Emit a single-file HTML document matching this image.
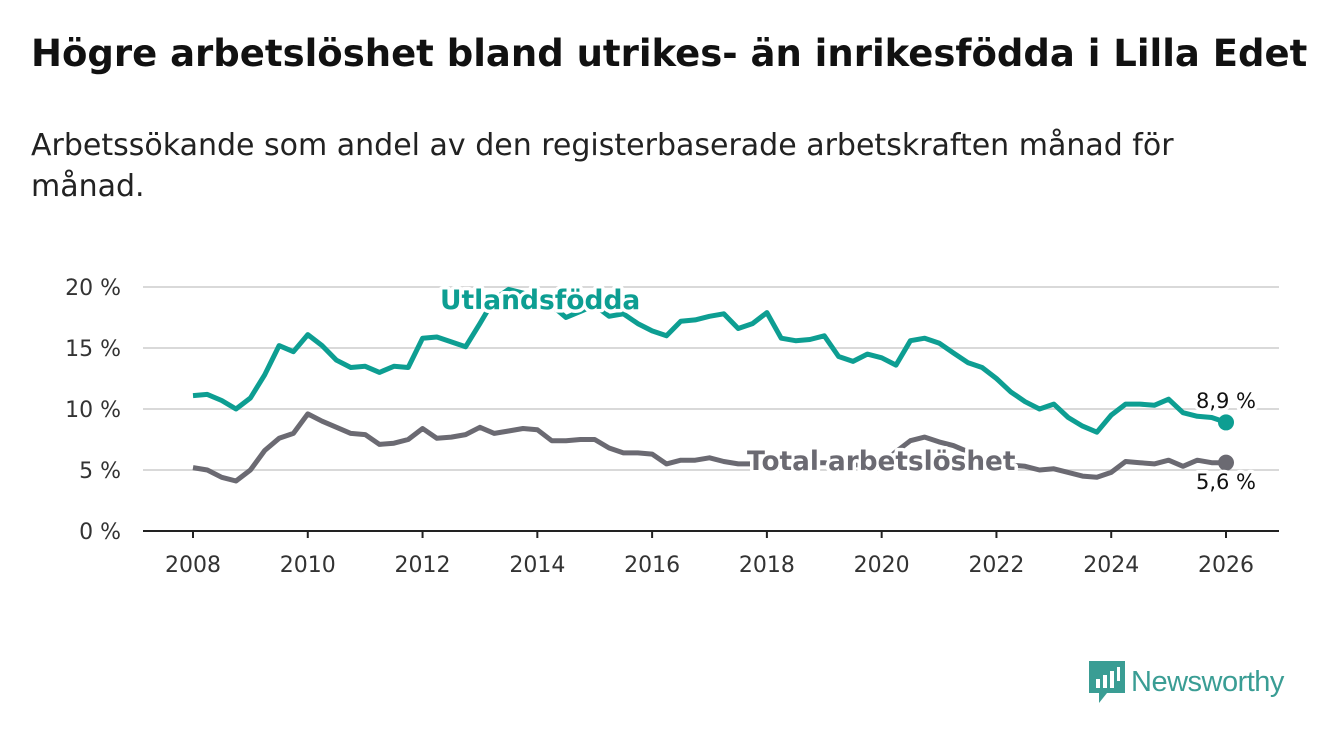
<!DOCTYPE html>
<html><head><meta charset="utf-8"><style>
body{margin:0;width:1340px;height:734px;background:#fff;font-family:"Liberation Sans","DejaVu Sans",sans-serif;overflow:hidden;position:relative}
h1{position:absolute;left:31px;top:32px;margin:0;font-size:37px;font-weight:bold;color:#111;font-family:"DejaVu Sans","Liberation Sans",sans-serif;letter-spacing:0px;white-space:nowrap}
.sub{position:absolute;left:31px;top:125px;width:1200px;font-size:30px;line-height:41px;color:#222;font-family:"DejaVu Sans","Liberation Sans",sans-serif}
svg{position:absolute;left:0;top:0}
</style></head><body>
<h1>Högre arbetslöshet bland utrikes- än inrikesfödda i Lilla Edet</h1>
<div class="sub">Arbetssökande som andel av den registerbaserade arbetskraften månad för månad.</div>
<svg id="chart" width="1340" height="734"></svg>
<script>
const years=[2008,2010,2012,2014,2016,2018,2020,2022,2024,2026];
const yTicks=[0,5,10,15,20];
const foreign=[11.1,11.2,10.7,10.0,10.9,12.8,15.2,14.7,16.1,15.2,14.0,13.4,13.5,13.0,13.5,13.4,15.8,15.9,15.5,15.1,17.0,19.0,19.8,19.5,19.0,18.5,17.5,18.0,18.5,17.6,17.8,17.0,16.4,16.0,17.2,17.3,17.6,17.8,16.6,17.0,17.9,15.8,15.6,15.7,16.0,14.3,13.9,14.5,14.2,13.6,15.6,15.8,15.4,14.6,13.8,13.4,12.5,11.4,10.6,10.0,10.4,9.3,8.6,8.1,9.5,10.4,10.4,10.3,10.8,9.7,9.4,9.3,8.9];
const total=[5.2,5.0,4.4,4.1,5.0,6.6,7.6,8.0,9.6,9.0,8.5,8.0,7.9,7.1,7.2,7.5,8.4,7.6,7.7,7.9,8.5,8.0,8.2,8.4,8.3,7.4,7.4,7.5,7.5,6.8,6.4,6.4,6.3,5.5,5.8,5.8,6.0,5.7,5.5,5.5,5.5,5.6,5.6,5.6,5.6,5.4,5.4,5.5,5.5,6.5,7.4,7.7,7.3,7.0,6.5,6.0,5.8,5.4,5.3,5.0,5.1,4.8,4.5,4.4,4.8,5.7,5.6,5.5,5.8,5.3,5.8,5.6,5.6];
const startYear=2008, step=0.25;
const X=y=>193+(y-2008)*(1226-193)/18;
const Y=v=>531-v*12.2;
const svg=document.getElementById('chart');
const NS='http://www.w3.org/2000/svg';
function mk(t,a,p){const e=document.createElementNS(NS,t);for(const k in a)e.setAttribute(k,a[k]);(p||svg).appendChild(e);return e;}
yTicks.forEach(v=>{
 if(v>0){const g=mk('line',{x1:143,x2:1279,y1:Y(v),y2:Y(v),stroke:'#d9d9d9','stroke-width':2});
 
 }
 const t=mk('text',{x:121,y:Y(v)+8,'text-anchor':'end','font-size':22,fill:'#333','font-family':'DejaVu Sans, sans-serif'});
 t.textContent=v+' %';
 
 
});
const ax=mk('line',{x1:143,x2:1279,y1:531,y2:531,stroke:'#222','stroke-width':2});


years.forEach(y=>{
 mk('line',{x1:X(y),x2:X(y),y1:531,y2:538,stroke:'#222','stroke-width':2});
 const t=mk('text',{x:X(y),y:572,'text-anchor':'middle','font-size':22,fill:'#333','font-family':'DejaVu Sans, sans-serif'});
 t.textContent=y;
 
 
});
function line(arr,color,name){
 const d=arr.map((v,i)=>(i?'L':'M')+X(startYear+i*step).toFixed(1)+','+Y(v).toFixed(1)).join('');
 const p=mk('path',{d:d,fill:'none',stroke:color,'stroke-width':5,'stroke-linejoin':'round'});
 
 
 const last=arr.length-1;
 const c=mk('circle',{cx:X(startYear+last*step),cy:Y(arr[last]),r:8,fill:color});
 
 
}
line(total,'#6b6a72','series-total');
line(foreign,'#0d9e92','series-foreign-born');
function lab(x,y,txt,col,size,weight,name,anchor){
 const t=mk('text',{x:x,y:y,fill:col,'font-size':size,'font-weight':weight,'font-family':'DejaVu Sans, sans-serif',stroke:'#fff','stroke-width':7,'paint-order':'stroke','stroke-linejoin':'round','text-anchor':anchor||'start'});
 t.textContent=txt;
 
 
}
lab(440,309,'Utlandsfödda','#0d9e92',26.5,'bold','label-foreign-born');
lab(747,470,'Total arbetslöshet','#6b6a72',26.3,'bold','label-total');
lab(1226,408,'8,9 %','#111',21,'normal','value-foreign-born','middle');
lab(1226,489,'5,6 %','#111',21,'normal','value-total','middle');
</script>
<div style="position:absolute;left:1089px;top:661px;display:flex;align-items:center">
 <svg width="36" height="42" style="position:static" viewBox="0 0 36 42"><path d="M0 0H36V32H18L10 42V32H0Z" fill="#3a9d94"/><rect x="7" y="18" width="4" height="9" fill="#fff"/><rect x="14" y="14" width="4" height="13" fill="#fff"/><rect x="21" y="10" width="4" height="17" fill="#fff"/><rect x="28" y="6" width="3" height="14" fill="#fff"/></svg>
 <span style="margin-left:6px;font-size:29px;color:#3a9d94;font-family:'Liberation Sans',sans-serif;letter-spacing:-0.5px">Newsworthy</span>
</div>
</body></html>
